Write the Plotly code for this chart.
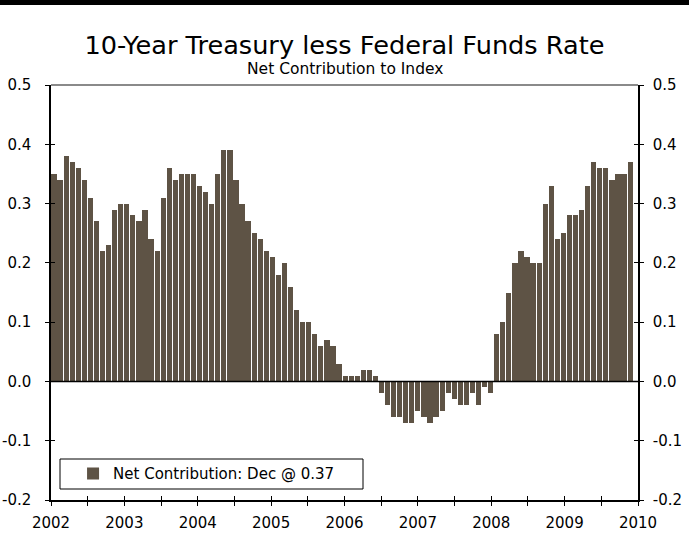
import plotly.graph_objects as go

# ---- data (monthly, Jan 2002 .. Dec 2009) ----
years = ["2002", "2003", "2004", "2005", "2006", "2007", "2008", "2009", "2010"]
v2002 = [0.35, 0.34, 0.38, 0.37, 0.36, 0.34, 0.31, 0.27, 0.22, 0.23, 0.29, 0.30]
v2003 = [0.30, 0.28, 0.27, 0.29, 0.24, 0.22, 0.31, 0.36, 0.34, 0.35, 0.35, 0.35]
v2004 = [0.33, 0.32, 0.30, 0.35, 0.39, 0.39, 0.34, 0.30, 0.27, 0.25, 0.24, 0.22]
v2005 = [0.21, 0.18, 0.20, 0.16, 0.12, 0.10, 0.10, 0.08, 0.06, 0.07, 0.06, 0.03]
v2006 = [0.01, 0.01, 0.01, 0.02, 0.02, 0.01, -0.02, -0.04, -0.06, -0.06, -0.07, -0.07]
v2007 = [-0.05, -0.06, -0.07, -0.06, -0.05, -0.02, -0.03, -0.04, -0.04, -0.02, -0.04, -0.01]
v2008 = [-0.02, 0.08, 0.10, 0.15, 0.20, 0.22, 0.21, 0.20, 0.20, 0.30, 0.33, 0.24]
v2009 = [0.25, 0.28, 0.28, 0.29, 0.33, 0.37, 0.36, 0.36, 0.34, 0.35, 0.35, 0.37]
y_ticks = [0.5, 0.4, 0.3, 0.2, 0.1, 0.0, -0.1, -0.2]
y_labels = ["0.5", "0.4", "0.3", "0.2", "0.1", "0.0", "-0.1", "-0.2"]

values = v2002 + v2003 + v2004 + v2005 + v2006 + v2007 + v2008 + v2009
months = [i + 0.5 for i in range(len(values))]

BAR = "#5E5345"
FONT = "DejaVu Sans"
XMAX = 96.8
step = XMAX / 16
xt = [k * step for k in range(17)]
xtext = [years[k // 2] if k % 2 == 0 else "" for k in range(17)]
YR = [-0.2, 0.5]

fig = go.Figure()
fig.add_trace(go.Bar(
    x=months, y=values, width=0.86,
    marker=dict(color=BAR, line=dict(width=0)),
    name="Net Contribution: Dec @ 0.37", showlegend=True,
))

common_y = dict(range=YR, tickvals=y_ticks, ticktext=y_labels, showgrid=False,
                zeroline=False, ticklen=4, tickcolor="black", tickwidth=1,
                automargin=False, tickfont=dict(size=15))

fig.update_layout(
    width=689, height=536,
    margin=dict(l=51, r=51, t=85, b=36, autoexpand=False),
    paper_bgcolor="white", plot_bgcolor="white",
    font=dict(family=FONT, size=15, color="black"),
    bargap=0,
    title=dict(text="10-Year Treasury less Federal Funds Rate", x=0.5, xanchor="center",
               y=1 - 45 / 536, yanchor="middle", yref="container",
               font=dict(family=FONT, size=25.6, color="black")),
    xaxis=dict(range=[0, XMAX], tickvals=xt, ticktext=xtext, ticks="outside",
               ticklen=4, tickcolor="black", showline=True, linecolor="black",
               linewidth=1.5, showgrid=False, zeroline=False, tickangle=0,
               ticklabelstandoff=4, tickfont=dict(size=15), automargin=False),
    xaxis2=dict(range=[0, XMAX], tickvals=xt, ticks="inside", ticklen=4,
                tickcolor="black", showticklabels=False, showline=False,
                overlaying="x", side="bottom", showgrid=False, zeroline=False,
                automargin=False),
    yaxis=dict(side="left", ticks="outside", showline=True, linecolor="black",
               linewidth=1.5, ticklabelstandoff=11, **common_y),
    yaxis2=dict(side="right", overlaying="y", ticks="outside", showline=True,
                linecolor="black", linewidth=1.5, ticklabelstandoff=6, **common_y),
    yaxis3=dict(side="left", overlaying="y", ticks="inside", showline=False,
                showticklabels=False, **common_y),
    yaxis4=dict(side="right", overlaying="y", ticks="inside", showline=False,
                showticklabels=False, **common_y),
    legend=dict(x=0.265, y=0.063, xanchor="center", yanchor="middle",
                bgcolor="rgba(0,0,0,0)", borderwidth=0, itemwidth=30,
                font=dict(family=FONT, size=15, color="black")),
)

# invisible helper traces so the overlay axes are drawn
fig.add_trace(go.Scatter(x=[None], y=[None], xaxis="x2", yaxis="y2", showlegend=False, hoverinfo="skip"))
fig.add_trace(go.Scatter(x=[None], y=[None], xaxis="x2", yaxis="y3", showlegend=False, hoverinfo="skip"))
fig.add_trace(go.Scatter(x=[None], y=[None], xaxis="x2", yaxis="y4", showlegend=False, hoverinfo="skip"))

shapes = [
    dict(type="line", xref="paper", yref="paper", x0=0, x1=1, y0=1, y1=1,
         line=dict(color="#8a8a8a", width=2)),
    dict(type="line", xref="paper", yref="y", x0=0, x1=1, y0=0, y1=0,
         line=dict(color="black", width=1.5), layer="above"),
    dict(type="rect", xref="paper", yref="paper", x0=-51 / 587, x1=(689 - 51) / 587,
         y0=(500 - 5) / 415, y1=500 / 415, fillcolor="black",
         line=dict(width=0), layer="above"),
    dict(type="rect", xref="paper", yref="paper", x0=(60 - 51) / 587, x1=(363 - 51) / 587,
         y0=(500 - 489) / 415, y1=(500 - 459) / 415, line=dict(color="black", width=1),
         fillcolor="white", layer="below"),
]
fig.update_layout(shapes=shapes)

fig.add_annotation(text="Net Contribution to Index", xref="paper", yref="paper",
                   x=0.5, y=(500 - 69) / 415, xanchor="center", yanchor="middle",
                   showarrow=False, font=dict(family=FONT, size=15.5, color="black"))

fig.write_html(
    "out.html",
    config={"displayModeBar": False},
    post_script="document.body.style.margin='0';document.body.style.padding='0';",
)
